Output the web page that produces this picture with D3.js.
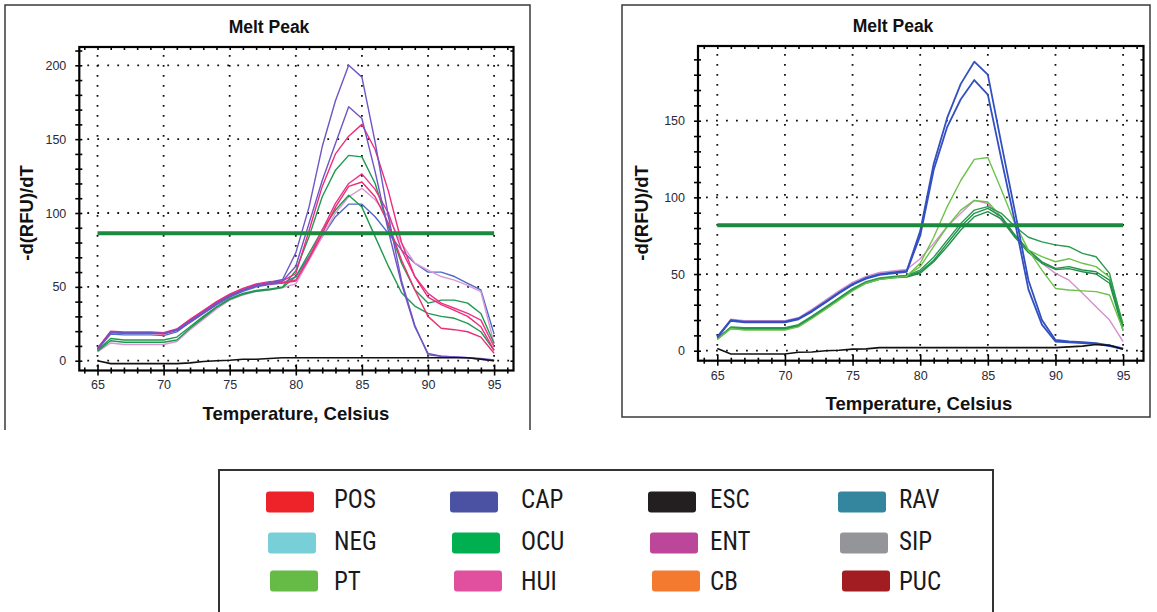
<!DOCTYPE html>
<html><head><meta charset="utf-8">
<script src="https://cdn.jsdelivr.net/npm/d3@7"></script>
<style>body{margin:0;background:#fff} svg{display:block;background:#fff}</style>
</head><body><svg id="c" width="1157" height="612"></svg>
<script>
// ---------- data ----------
const temps = [65,66,67,68,69,70,71,72,73,74,75,76,77,78,79,80,81,82,83,84,85,86,87,88,89,90,91,92,93,94,95];
const xMajorTicks = [65,70,75,80,85,90,95];
const leftYTicks = [0,50,100,150,200];
const rightYTicks = [0,50,100,150];

// left panel series (-d(RFU)/dT by temperature)
const leftCap1 = [8,19.5,19,19,19,18.5,21,27,33,39,44,48,51,53,55, 73,104,145,176,200,192,148,98,54,24,4,3,2.5,2,1,0];
const leftCap2 = [8,19,18.5,18.5,18.5,18.5,20.5,26,32,38,43.5,47.5,50.5,52,54, 64,93,122,147,172,164,128,88,52,23,5,3,2.5,2,1.5,0.5];
const leftHui1 = [8.5,20,19.5,19.5,19.5,19,21.5,28,34,40,45,49,52,53.5,54, 59,88,118,140,152,160,143,115,80,57,43,38,34,30,23,7];
const leftHui2 = [8,19.5,19,19,19,18.5,21,27.5,33.5,39.5,44.5,48.5,51.5,52.5,53, 54.6,70,88.5,106.5,120,126.5,116,100,75,57,45.6,39,35.5,32,27.5,9.5];
const leftHui3 = [8,19,18.5,18.5,18.5,18,20.5,27,33,39,44,48,51,52,52.5, 54,69,86,104,118,121,111,93,68,48,30,22,21,19.6,16,5];
const leftOcu1 = [7,15,14,14,14,14,16,23,30,36.5,42,45.5,47.5,48.5,50, 61,84,111,129,139,138,120,91,66,48,39,41,41,39,32,11.7];
const leftOcu2 = [6.5,13.5,12.5,12.5,12.5,12.5,14,22,29,36,41.5,45,47,48,49.5, 57,72.7,88.5,102,112,104,84,64,46,37,32,30,28.7,25.3,19.6,7];
const leftEnt  = [6,12,11,11,11,11,13,21,28,35,41,44.5,47,48,49.5, 52,68,84,100,111,116.7,109,97.5,79.5,66,61.4,57,54.6,51,46.7,11.7];
const leftRav  = [7.5,18,17.5,17.5,17.5,17,19.5,26,32,38,43,47,50,51.5,52.5, 57,70.4,84,97.5,106,106,97.5,86.2,75,66,60,60,57,52.4,47.9,18];
const leftEsc  = [0,-2,-2,-2,-2,-2,-2,-1.5,-0.5,0,0.3,1,1,1.5,2, 2,2,2,2,2,2,2,2,2,2,2,2,2,2,1,0];
const leftThreshold = 86.3;

// right panel series
const rightCap1 = [9,20,19,19,19,19,21,26,32,38,43.5,47.5,50,51,52, 78,122,152,174,188.5,180,135,91,46,20,7,6,5.5,5,3.5,1.5];
const rightCap2 = [8.5,19.5,18.5,18.5,18.5,18.5,20.5,25.5,31.5,37.5,43,47,49.5,50.5,51.5, 75,118,146,164,176.5,167,125,84,40,17,6,5.5,5,4.5,3,1];
const rightPt1  = [7.5,14.5,13.5,13.5,13.5,13.5,15.5,21,27,33,39,44,46.5,47.5,48.5, 57,74,94,111,124.8,126,105,83,65.6,52.6,40.6,39.6,39,38.5,36.3,13.5];
const rightPt2  = [7.5,15,14,14,14,14,16,22,28,34,40,44.5,47,48,49, 54.8,68,81,91.7,98,97,87.4,75.4,65.6,61.3,58,60,57,54.8,48,17.8];
const rightOcu1 = [8,15.5,15,15,15,15,17,22.5,28.5,34.5,40.5,45,47.5,48.5,49, 52.6,61,72,83,91.7,94,89.6,81,74,71,69,67.8,63.5,61.3,50.4,15.6];
const rightOcu2 = [8,15,14.5,14.5,14.5,14.5,16.5,22,28,34,40,44.5,47,48,48.5, 51.5,59,70,81,89.6,92.8,87.4,75.4,65.6,58,53.7,54.8,52.6,51.5,46,15.6];
const rightOcu3 = [7.5,14.5,14,14,14,14,16,21.5,27.5,33.5,39.5,44,46.5,47.5,48, 50.5,58,68,78.7,87.4,90.7,86,74,64,57,53,53.5,51.5,50,44,13];
const rightEnt  = [9,20.5,19.5,19.5,19.5,19.5,21.5,27,33,39,44.5,48.5,51,52,53, 60,70,81,89.6,98,96,85,74.3,65.6,57,50.4,46,37.4,28.7,20,5.9];
const rightEsc  = [1.5,-2.2,-2.2,-2.2,-2.2,-2.2,-1,-0.8,0,0.3,1,1.2,2,2,2, 2,2,2,2,2,2,2,2,2,2,2,2.5,3,4,3.5,1];
const rightThreshold = 81.8;

// legend
const legendNames  = ["POS","NEG","PT","CAP","OCU","HUI","ESC","ENT","CB","RAV","SIP","PUC"];
const legendColors = ["#ee2229","#79cfd8","#66bb46","#4b52a3","#00b050","#e0509e","#231f20","#bc4699","#f47a30","#33869e","#939598","#a11d21"];

// ---------- drawing ----------
const svg = d3.select("#c");
svg.append("rect").attr("width",1157).attr("height",612).attr("fill","#fff");

// panel frames
svg.append("path").attr("d","M5,430V5H530V430").attr("fill","none").attr("stroke","#3a3a3a").attr("stroke-width",1.5);
svg.append("rect").attr("x",622).attr("y",5).attr("width",528).attr("height",412)
  .attr("fill","none").attr("stroke","#3a3a3a").attr("stroke-width",1.5);

const FONT = "'Liberation Sans', Arial, sans-serif";

function drawChart(cfg){
  const x = d3.scaleLinear().domain([65,95]).range(cfg.xr);
  const y = d3.scaleLinear().domain([0,cfg.yTop]).range(cfg.yr);
  const f = cfg.frame;
  const g = svg.append("g");

  const xMin = Math.ceil(x.invert(f.l)), xMax = Math.floor(x.invert(f.r));
  const yMin = Math.ceil(y.invert(f.b)/10)*10, yMax = Math.floor(y.invert(f.t)/10)*10;
  const xMinor = d3.range(xMin, xMax+1, 1);
  const yMinor = d3.range(yMin, yMax+1, 10);

  // dotted grid
  const grid = g.append("g").attr("stroke","#111").attr("stroke-width",1.8).attr("stroke-dasharray","1.8 8.2");
  xMajorTicks.forEach(t=>{
    grid.append("line").attr("x1",x(t)).attr("x2",x(t)).attr("y1",f.t+8).attr("y2",f.b);
  });
  cfg.yTicks.forEach(t=>{
    grid.append("line").attr("x1",f.l+8).attr("x2",f.r).attr("y1",y(t)).attr("y2",y(t));
  });

  // series
  const line = d3.line().x((d,i)=>x(temps[i])).y(d=>y(d));
  cfg.series.forEach(s=>{
    g.append("path").attr("d",line(s.values)).attr("fill","none")
      .attr("stroke",s.color).attr("stroke-width",s.w||1.4).attr("stroke-linejoin","round");
  });
  // threshold
  g.append("line").attr("x1",x(65)).attr("x2",x(95)).attr("y1",y(cfg.threshold)).attr("y2",y(cfg.threshold))
    .attr("stroke","#1b8a3e").attr("stroke-width",4);
  // black series on top
  g.append("path").attr("d",line(cfg.esc)).attr("fill","none").attr("stroke","#111").attr("stroke-width",1.6);

  // frame
  g.append("rect").attr("x",f.l).attr("y",f.t).attr("width",f.r-f.l).attr("height",f.b-f.t)
    .attr("fill","none").attr("stroke","#000").attr("stroke-width",2.2);

  // bottom axis ticks (crossing frame)
  const bAx = g.append("g").attr("transform",`translate(0,${f.b})`)
    .call(d3.axisBottom(x).tickValues(xMinor).tickSize(3).tickFormat(""));
  bAx.select(".domain").remove();
  bAx.selectAll(".tick line").attr("y1",d=>xMajorTicks.includes(d)?-6:-3).attr("y2",d=>xMajorTicks.includes(d)?5:3)
    .attr("stroke","#000").attr("stroke-width",1.6);
  // top inner ticks
  const tAx = g.append("g").attr("transform",`translate(0,${f.t})`)
    .call(d3.axisTop(x).tickValues(xMinor).tickSize(-3).tickFormat(""));
  tAx.select(".domain").remove();
  tAx.selectAll(".tick line").attr("stroke","#000").attr("stroke-width",1.6);
  // left ticks crossing frame
  const lAx = g.append("g").attr("transform",`translate(${f.l},0)`)
    .call(d3.axisLeft(y).tickValues(yMinor).tickSize(3).tickFormat(""));
  lAx.select(".domain").remove();
  lAx.selectAll(".tick line").attr("x1",-4).attr("x2",3).attr("stroke","#000").attr("stroke-width",1.6);
  // right inner ticks
  const rAx = g.append("g").attr("transform",`translate(${f.r},0)`)
    .call(d3.axisRight(y).tickValues(yMinor).tickSize(-3).tickFormat(""));
  rAx.select(".domain").remove();
  rAx.selectAll(".tick line").attr("stroke","#000").attr("stroke-width",1.6);

  // tick labels
  const xl = g.append("g").attr("transform",`translate(0,${f.b})`)
    .call(d3.axisBottom(x).tickValues(xMajorTicks).tickSize(0).tickPadding(10).tickFormat(d3.format("d")));
  xl.select(".domain").remove();
  xl.selectAll("text").attr("font-family",FONT).attr("font-size",12.5).attr("fill","#2a2a3a");
  const yl = g.append("g").attr("transform",`translate(${f.l},0)`)
    .call(d3.axisLeft(y).tickValues(cfg.yTicks).tickSize(0).tickPadding(13).tickFormat(d3.format("d")));
  yl.select(".domain").remove();
  yl.selectAll("text").attr("font-family",FONT).attr("font-size",12.5).attr("fill","#2a2a3a");

  // titles
  g.append("text").attr("x",cfg.titleX).attr("y",f.t-14).attr("text-anchor","middle")
    .attr("font-family",FONT).attr("font-weight","bold").attr("font-size",17.5).attr("fill","#111").text("Melt Peak");
  g.append("text").attr("x",cfg.xlabX).attr("y",f.b+49).attr("text-anchor","middle")
    .attr("font-family",FONT).attr("font-weight","bold").attr("font-size",18.5).attr("fill","#111").text("Temperature, Celsius");
  g.append("text").attr("transform",`translate(${cfg.ylabX},${cfg.ylabY}) rotate(-90)`).attr("text-anchor","middle")
    .attr("font-family",FONT).attr("font-weight","bold").attr("font-size",18.5).attr("fill","#111").text("-d(RFU)/dT");
}

drawChart({
  xr:[97.5,494.1], yTop:200, yr:[360.7,65.3],
  frame:{l:79.3,r:513.5,t:47,b:370.5},
  yTicks:leftYTicks, threshold:leftThreshold, esc:leftEsc,
  titleX:269, xlabX:296, ylabX:33, ylabY:213,
  series:[
    {values:leftRav,color:"#4f6bc9"},
    {values:leftEnt,color:"#d898d4"},
    {values:leftOcu2,color:"#1f9950"},
    {values:leftOcu1,color:"#1f9950"},
    {values:leftHui3,color:"#ea2f74"},
    {values:leftHui2,color:"#e8368a"},
    {values:leftHui1,color:"#ef2b7c"},
    {values:leftCap2,color:"#6f55c5"},
    {values:leftCap1,color:"#6f55c5"}
  ]
});

drawChart({
  xr:[717.3,1123.1], yTop:150, yr:[350.7,120.7],
  frame:{l:698,r:1143.5,t:46,b:360.7},
  yTicks:rightYTicks, threshold:rightThreshold, esc:rightEsc,
  titleX:893, xlabX:919, ylabX:648, ylabY:213,
  series:[
    {values:rightEnt,color:"#d58fd0"},
    {values:rightPt2,color:"#6cc24a"},
    {values:rightOcu3,color:"#1f9148"},
    {values:rightOcu2,color:"#1f9148"},
    {values:rightOcu1,color:"#2a9a50"},
    {values:rightPt1,color:"#6cc24a"},
    {values:rightCap2,color:"#3350c0",w:1.8},
    {values:rightCap1,color:"#3350c0",w:1.8}
  ]
});

// legend box
svg.append("path").attr("d","M219,613V470H993V613").attr("fill","none").attr("stroke","#333").attr("stroke-width",2);
const colSw = [266,450,648,838], colTx = [334,521,710,899], rowSw = [502,543,581], rowTx = [508,550,590];
const lg = svg.append("g");
legendNames.forEach((n,i)=>{
  const c = Math.floor(i/3), r = i%3;
  lg.append("rect").attr("x",colSw[c]+(r*2)).attr("y",rowSw[r]-10.5).attr("width",48).attr("height",21)
    .attr("rx",3).attr("fill",legendColors[i]);
  lg.append("text").attr("x",colTx[c]).attr("y",rowTx[r]).attr("font-family","'Liberation Sans Narrow', 'Arial Narrow', 'Roboto Condensed', sans-serif")
    .attr("font-size",25).attr("fill","#1a1a1a").text(n);
});
</script></body></html>
